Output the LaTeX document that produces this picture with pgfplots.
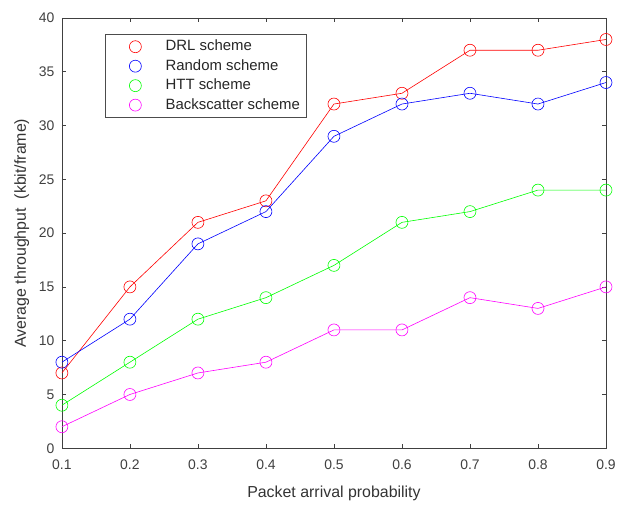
\documentclass[border=0pt]{standalone}
\usepackage{pgfplots}
\pgfplotsset{compat=1.18}
\usepackage{fontspec}
\setmainfont{Liberation Sans}
\definecolor{mred}{RGB}{255,0,0}
\definecolor{mblue}{RGB}{0,0,255}
\definecolor{mgreen}{RGB}{0,255,0}
\definecolor{mmag}{RGB}{255,0,255}
\begin{document}
\begin{tikzpicture}
\begin{axis}[
  scale only axis,
  width=545bp, height=431bp,
  xmin=0.1, xmax=0.9, ymin=0, ymax=40,
  xtick={0.1,0.2,...,0.9},
  ytick={0,5,...,40},
  xticklabels={0.1,0.2,0.3,0.4,0.5,0.6,0.7,0.8,0.9},
  tick align=inside,
  major tick length=4bp,
  tick style={black!75, line width=0.6pt},
  axis line style={black!75, line width=0.7pt},
  /pgf/number format/assume math mode=true,
  ticklabel style={font=\fontsize{14}{16}\selectfont, text=black!75},
  xticklabel style={yshift=-8bp},
  yticklabel style={xshift=-4bp},
  label style={font=\fontsize{16}{18}\selectfont, text=black!80},
  xlabel={Packet arrival probability},
  ylabel={Average throughput\ \ (kbit/frame)},
  xlabel style={yshift=-10bp},
  ylabel style={yshift=3bp},
  legend style={at={(43bp,415bp)}, anchor=north west, draw=black!70, line width=0.6pt,
     font=\fontsize{15}{17}\selectfont, text=black!85, row sep=0.5bp, inner xsep=3.5bp, inner ysep=3bp,
     nodes={text height=11bp, text depth=3bp, inner sep=2.5bp}},
  legend cell align=left,
  legend image code/.code={\path (-26.5bp,0bp) (27.5bp,0bp); \draw[#1, mark repeat=1] plot coordinates {(0bp,0bp)};},
  every axis plot/.append style={line width=0.6pt, mark=o, mark size=6bp, mark options={solid, line width=0.6pt}},
]
\addplot[color=mred] coordinates {(0.1,7)(0.2,15)(0.3,21)(0.4,23)(0.5,32)(0.6,33)(0.7,37)(0.8,37)(0.9,38)};
\addlegendentry{DRL scheme}
\addplot[color=mblue] coordinates {(0.1,8)(0.2,12)(0.3,19)(0.4,22)(0.5,29)(0.6,32)(0.7,33)(0.8,32)(0.9,34)};
\addlegendentry{Random scheme}
\addplot[color=mgreen] coordinates {(0.1,4)(0.2,8)(0.3,12)(0.4,14)(0.5,17)(0.6,21)(0.7,22)(0.8,24)(0.9,24)};
\addlegendentry{HTT scheme}
\addplot[color=mmag] coordinates {(0.1,2)(0.2,5)(0.3,7)(0.4,8)(0.5,11)(0.6,11)(0.7,14)(0.8,13)(0.9,15)};
\addlegendentry{Backscatter scheme}
\end{axis}
\path[use as bounding box] ([shift={(-62bp,-53bp)}]current axis.south west) rectangle ([shift={(12bp,18bp)}]current axis.north east);
\end{tikzpicture}
\end{document}
